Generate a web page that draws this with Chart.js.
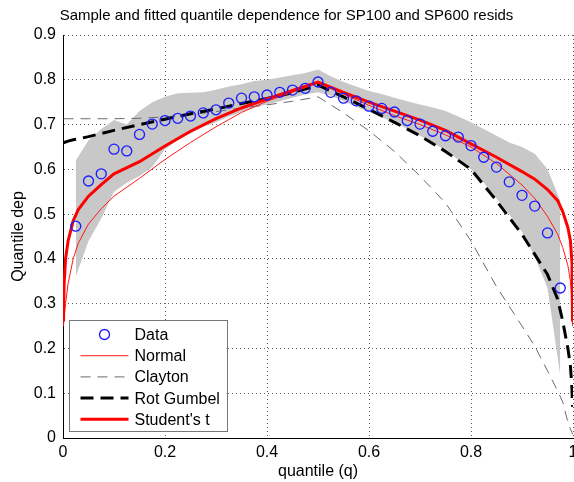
<!DOCTYPE html>
<html>
<head>
<meta charset="utf-8">
<title>Quantile dependence</title>
<script src="https://cdn.jsdelivr.net/npm/chart.js@4.4.1/dist/chart.umd.min.js"></script>
<style>
    body { margin: 0; background: #fff; }
    #wrap { width: 574px; height: 482px; }
</style>
</head>
<body>
<div id="wrap"><canvas id="myChart" width="574" height="482"></canvas></div>
<script>
// sample quantile dependence (circles)
var dataQ = [0.025, 0.05, 0.075, 0.1, 0.125, 0.15, 0.175, 0.2, 0.225, 0.25, 0.275, 0.3, 0.325,
    0.35, 0.375, 0.4, 0.425, 0.45, 0.475, 0.5, 0.525, 0.55, 0.575, 0.6, 0.625, 0.65, 0.675,
    0.7, 0.725, 0.75, 0.775, 0.8, 0.825, 0.85, 0.875, 0.9, 0.925, 0.95, 0.975];
var dataDep = [0.473, 0.574, 0.590, 0.645, 0.641, 0.678, 0.701, 0.709, 0.714, 0.719, 0.726, 0.733, 0.748,
    0.759, 0.762, 0.766, 0.772, 0.777, 0.781, 0.795, 0.772, 0.759, 0.753, 0.741, 0.736, 0.728, 0.709,
    0.701, 0.685, 0.675, 0.672, 0.653, 0.627, 0.605, 0.572, 0.542, 0.518, 0.458, 0.335];

// grey confidence band (same q as the data)
var bandLo = [0.36, 0.44, 0.49, 0.55, 0.57, 0.585, 0.605, 0.645, 0.665, 0.68, 0.695, 0.705, 0.718,
    0.728, 0.738, 0.745, 0.752, 0.76, 0.767, 0.772, 0.765, 0.752, 0.74, 0.728, 0.716, 0.705, 0.69,
    0.675, 0.66, 0.642, 0.622, 0.60, 0.57, 0.535, 0.50, 0.46, 0.405, 0.335, 0.14];
var bandHi = [0.62, 0.665, 0.69, 0.71, 0.70, 0.73, 0.75, 0.762, 0.77, 0.771, 0.772, 0.778, 0.785,
    0.79, 0.797, 0.80, 0.805, 0.81, 0.815, 0.823, 0.808, 0.795, 0.785, 0.775, 0.768, 0.76, 0.752,
    0.745, 0.738, 0.73, 0.718, 0.705, 0.69, 0.675, 0.66, 0.65, 0.635, 0.60, 0.53];

// fitted copula curves
var curveQ = [0.001, 0.002, 0.005, 0.01, 0.02, 0.03, 0.05, 0.075, 0.1, 0.15, 0.2, 0.25, 0.3, 0.35, 0.4, 0.45, 0.5,
    0.55, 0.6, 0.65, 0.7, 0.75, 0.8, 0.85, 0.9, 0.925, 0.95, 0.97, 0.98, 0.99, 0.995, 0.998, 0.999];
var normalDep = [0.25, 0.27, 0.30, 0.345, 0.40, 0.435, 0.478, 0.512, 0.54, 0.58, 0.622, 0.66, 0.695, 0.727, 0.752, 0.772, 0.793,
    0.768, 0.743, 0.72, 0.70, 0.677, 0.65, 0.613, 0.565, 0.535, 0.495, 0.455, 0.425, 0.385, 0.35, 0.31, 0.25];
var claytonDep = [0.713, 0.713, 0.713, 0.713, 0.713, 0.713, 0.713, 0.713, 0.713, 0.714, 0.717, 0.722, 0.729, 0.737, 0.744, 0.752, 0.762,
    0.726, 0.686, 0.64, 0.585, 0.525, 0.44, 0.338, 0.25, 0.205, 0.15, 0.105, 0.08, 0.035, 0.02, 0.012, 0.008];
var gumbelDep = [0.66, 0.66, 0.661, 0.663, 0.666, 0.668, 0.673, 0.68, 0.687, 0.70, 0.712, 0.724, 0.735, 0.747, 0.758, 0.771, 0.788,
    0.762, 0.734, 0.705, 0.675, 0.64, 0.60, 0.53, 0.455, 0.41, 0.365, 0.31, 0.26, 0.20, 0.16, 0.11, 0.07];
var studentDep = [0.26, 0.34, 0.40, 0.44, 0.485, 0.51, 0.54, 0.566, 0.59, 0.617, 0.652, 0.685, 0.713, 0.737, 0.757, 0.776, 0.795,
    0.772, 0.75, 0.73, 0.71, 0.687, 0.657, 0.627, 0.595, 0.578, 0.555, 0.53, 0.505, 0.47, 0.44, 0.39, 0.26];

var xTicks = [0, 0.2, 0.4, 0.6, 0.8, 1];
var yTicks = [0, 0.1, 0.2, 0.3, 0.4, 0.5, 0.6, 0.7, 0.8, 0.9];
// legend order (dataset labels) as in the original figure
var legendOrder = ["Data", "Normal", "Clayton", "Rot Gumbel", "Student's t"];

var fontFam = "'Liberation Sans', Arial, Helvetica, sans-serif";

function pts(xs, ys) {
    return xs.map(function (x, i) { return { x: x, y: ys[i] }; });
}

// legend drawn inside the axes, bottom left (like matlab 'Location','SouthWest')
var boxLegend = {
    id: 'boxLegend',
    afterDraw: function (chart) {
        var ctx = chart.ctx;
        var area = chart.chartArea;
        var x0 = Math.round(area.left) + 6.5;
        var h = 111, w = 158;
        var y0 = Math.round(area.bottom) - 6.5 - h;
        ctx.save();
        ctx.fillStyle = '#fff';
        ctx.fillRect(x0, y0, w, h);
        ctx.strokeStyle = '#777';
        ctx.lineWidth = 1;
        ctx.strokeRect(x0, y0, w, h);
        ctx.font = '16px ' + fontFam;
        ctx.textBaseline = 'middle';
        legendOrder.forEach(function (name, i) {
            var ds = chart.data.datasets.filter(function (d) { return d.label === name; })[0];
            var yy = y0 + 14 + i * 21.2;
            ctx.beginPath();
            ctx.strokeStyle = ds.borderColor;
            ctx.lineWidth = ds.borderWidth;
            if (ds.showLine === false) {
                ctx.arc(x0 + 35, yy, ds.pointRadius, 0, Math.PI * 2);
            } else {
                ctx.setLineDash(ds.borderDash || []);
                ctx.moveTo(x0 + 11, yy);
                ctx.lineTo(x0 + 59, yy);
            }
            ctx.stroke();
            ctx.setLineDash([]);
            ctx.fillStyle = '#000';
            ctx.fillText(ds.label, x0 + 65, yy + 1);
        });
        ctx.restore();
    }
};

var ctx = document.getElementById("myChart").getContext("2d");
var myChart = new Chart(ctx, {
    type: "scatter",
    data: {
        datasets: [
            {
                label: "Data",
                data: pts(dataQ, dataDep),
                showLine: false,
                pointStyle: 'circle',
                pointRadius: 5,
                borderColor: '#1a1aff',
                backgroundColor: 'rgba(0,0,0,0)',
                borderWidth: 1.3
            },
            {
                label: "Student's t",
                data: pts(curveQ, studentDep),
                showLine: true,
                pointRadius: 0,
                borderColor: '#ff0000',
                borderWidth: 3
            },
            {
                label: "Normal",
                data: pts(curveQ, normalDep),
                showLine: true,
                pointRadius: 0,
                borderColor: '#ff1a1a',
                borderWidth: 1
            },
            {
                label: "Rot Gumbel",
                data: pts(curveQ, gumbelDep),
                showLine: true,
                pointRadius: 0,
                borderColor: '#000000',
                borderWidth: 3,
                borderDash: [13, 7]
            },
            {
                label: "Clayton",
                data: pts(curveQ, claytonDep),
                showLine: true,
                pointRadius: 0,
                borderColor: '#6a6a6a',
                borderWidth: 1,
                borderDash: [10, 7]
            },
            {
                label: "band hi",
                data: pts(dataQ, bandHi),
                showLine: true,
                pointRadius: 0,
                borderWidth: 0,
                borderColor: 'rgba(0,0,0,0)',
                backgroundColor: '#c8c8c8',
                fill: '+1'
            },
            {
                label: "band lo",
                data: pts(dataQ, bandLo),
                showLine: true,
                pointRadius: 0,
                borderWidth: 0,
                borderColor: 'rgba(0,0,0,0)'
            }
        ]
    },
    options: {
        responsive: false,
        animation: false,
        devicePixelRatio: 1,
        layout: { autoPadding: false, padding: { left: 0, right: 1, top: 0, bottom: 0 } },
        plugins: {
            legend: { display: false },
            tooltip: { enabled: false },
            title: {
                display: true,
                text: "Sample and fitted quantile dependence for SP100 and SP600 resids",
                color: '#000',
                font: { family: fontFam, size: 15, weight: 'normal' },
                padding: { top: 7, bottom: 10 }
            }
        },
        scales: {
            x: {
                type: 'linear',
                min: 0,
                max: 1,
                afterBuildTicks: function (scale) {
                    scale.ticks = xTicks.map(function (v) { return { value: v }; });
                },
                ticks: {
                    padding: 5,
                    color: '#000',
                    maxRotation: 0,
                    font: { family: fontFam, size: 16 },
                    callback: function (v) { return String(+v.toFixed(1)); }
                },
                grid: { color: 'rgba(0,0,0,0.65)', drawTicks: false },
                border: { display: true, color: '#000', width: 1, dash: [1, 3] },
                title: {
                    display: true,
                    text: 'quantile (q)',
                    color: '#000',
                    font: { family: fontFam, size: 16 },
                    padding: { top: 0, bottom: 1 }
                },
                afterFit: function (scale) {
                    scale.height = 44;
                    scale.paddingLeft = 0;
                    scale.paddingRight = 0;
                }
            },
            y: {
                min: 0,
                max: 0.9,
                afterBuildTicks: function (scale) {
                    scale.ticks = yTicks.map(function (v) { return { value: v }; });
                },
                ticks: {
                    padding: 7,
                    color: '#000',
                    font: { family: fontFam, size: 16 },
                    callback: function (v) { return String(+v.toFixed(1)); }
                },
                grid: { color: 'rgba(0,0,0,0.65)', drawTicks: false },
                border: { display: true, color: '#000', width: 1, dash: [1, 3] },
                title: {
                    display: true,
                    text: 'Quantile dep',
                    color: '#000',
                    font: { family: fontFam, size: 16 },
                    padding: { top: 9, bottom: 0 }
                },
                afterFit: function (scale) {
                    scale.width = 63;
                    scale.paddingTop = 0;
                    scale.paddingBottom = 0;
                }
            }
        }
    },
    plugins: [boxLegend]
});
</script>
</body>
</html>
